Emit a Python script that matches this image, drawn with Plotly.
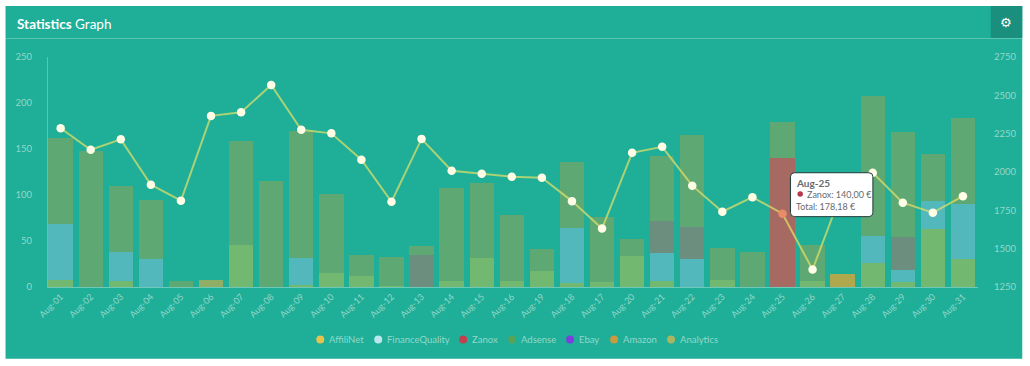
import plotly.graph_objects as go

W, H = 1030, 366
L, R, T, B = 47.5, 978.2, 57.0, 287.5

days = ["Aug-01","Aug-02","Aug-03","Aug-04","Aug-05","Aug-06","Aug-07","Aug-08","Aug-09","Aug-10",
        "Aug-11","Aug-12","Aug-13","Aug-14","Aug-15","Aug-16","Aug-19","Aug-18","Aug-17","Aug-20",
        "Aug-21","Aug-22","Aug-23","Aug-24","Aug-25","Aug-26","Aug-27","Aug-28","Aug-29","Aug-30","Aug-31"]
affilinet = [8,0,7,0,0,0,46,0,2,15,12,1,0,7,31,6,17,4,5,34,7,0,8,0,0,7,0,26,5,63,30]
financequality = [60,0,31,30,0,0,0,0,30,0,0,0,0,0,0,0,0,60,0,0,30,30,0,0,0,0,0,29,14,31,60]
zanox = [0,0,0,0,0,0,0,0,0,0,0,0,0,0,0,0,0,0,0,0,0,0,0,0,140,0,0,0,0,0,0]
ebay = [0,0,0,0,0,0,0,0,0,0,0,0,35,0,0,0,0,0,0,0,35,35,0,0,0,0,0,0,35,0,0]
adsense = [94,148,72,65,6,0,113,115,138,86,23,32,10,101,82,72,24,72,71,18,70,100,34,38,39,39,0,153,115,51,94]
amazon = [0,0,0,0,0,8,0,0,0,0,0,0,0,0,0,0,0,0,0,0,0,0,0,0,0,0,14,0,0,0,0]
analytics = [2285,2145,2213,1917,1813,2366,2389,2568,2275,2252,2080,1806,2216,2008,1989,1969,1963,1810,1631,2125,
             2164,1911,1741,1836,1728,1364,1885,1995,1800,1735,1842]

legend_names = ["AffiliNet","FinanceQuality","Zanox","Adsense","Ebay","Amazon","Analytics"]
legend_colors = ["#E6C34F","#BDE6EE","#C0404E","#55A45A","#7A3FDD","#C99A3E","#A9B560"]
legend_swatch_x = [320,378,463,512,570,614,671]
tick_left = [0,50,100,150,200,250]
tick_right = [1250,1500,1750,2000,2250,2500,2750]

PANEL = "#1FAE97"
TXT = "#93D8CA"
FONT = "Lato"


def px(x):
    return (x - L) / (R - L)


def py(y):
    return (B - y) / (B - T)


fig = go.Figure()
amazon_colors = ["#8FAE66" if d == "Aug-06" else "#B0A84C" for d in days]
for name, vals, col in [("AffiliNet", affilinet, "#72B871"),
                        ("FinanceQuality", financequality, "#52B8BC"),
                        ("Zanox", zanox, "#A66A62"),
                        ("Ebay", ebay, "#6B8E7E"),
                        ("Adsense", adsense, "#5DA873"),
                        ("Amazon", amazon, amazon_colors)]:
    fig.add_bar(x=days, y=vals, name=name, marker=dict(color=col, line_width=0), yaxis="y")

marker_colors = ["#E98C68" if d == "Aug-25" else "#FFFDE6" for d in days]
fig.add_scatter(x=days, y=analytics, name="Analytics", yaxis="y2", mode="lines+markers",
                line=dict(color="rgba(225,225,105,0.72)", width=2),
                marker=dict(size=8.5, color=marker_colors, line_width=0))

shapes = [
    dict(type="rect", xref="paper", yref="paper", layer="below", x0=px(5), x1=px(1022.5), y0=py(6), y1=py(359.5),
         fillcolor=PANEL, line_width=0),
    dict(type="line", xref="paper", yref="paper", layer="below", x0=px(5), x1=px(1022.5), y0=py(38.5), y1=py(38.5),
         line=dict(color="rgba(255,255,255,0.28)", width=1)),
    dict(type="rect", xref="paper", yref="paper", layer="below", x0=px(991), x1=px(1022.5), y0=py(6), y1=py(38),
         fillcolor="#1B8F7D", line_width=0),
]
annotations = [
    dict(xref="paper", yref="paper", x=px(14.5), y=py(23.5), xanchor="left", yanchor="middle", showarrow=False,
         text="<b>Statistics</b> Graph", font=dict(family=FONT, size=13.5, color="#FFFFFF")),
    dict(xref="paper", yref="paper", x=px(1006), y=py(22), xanchor="center", yanchor="middle", showarrow=False,
         text="⚙", font=dict(family="DejaVu Sans", size=13, color="#FFFFFF")),
]
for nm, col, sx in zip(legend_names, legend_colors, legend_swatch_x):
    shapes.append(dict(type="circle", xref="paper", yref="paper", x0=px(sx - 4), x1=px(sx + 4),
                       y0=py(340 - 4), y1=py(340 + 4), fillcolor=col, line_width=0))
    annotations.append(dict(xref="paper", yref="paper", x=px(sx + 7), y=py(340), xanchor="left", yanchor="middle",
                            showarrow=False, text=nm, font=dict(family=FONT, size=9.5, color=TXT)))

# tooltip
x0, x1, y0, y1, r = 790.5, 873, 173, 217, 4
path = (f"M {px(x0 + r)} {py(y0)} L {px(x1 - r)} {py(y0)} Q {px(x1)} {py(y0)} {px(x1)} {py(y0 + r)} "
        f"L {px(x1)} {py(y1 - r)} Q {px(x1)} {py(y1)} {px(x1 - r)} {py(y1)} "
        f"L {px(x0 + r)} {py(y1)} Q {px(x0)} {py(y1)} {px(x0)} {py(y1 - r)} "
        f"L {px(x0)} {py(y0 + r)} Q {px(x0)} {py(y0)} {px(x0 + r)} {py(y0)} Z")
shapes.append(dict(type="path", xref="paper", yref="paper", path=path, fillcolor="#FFFFFF",
                   line=dict(color="#1D3B3A", width=1)))
shapes.append(dict(type="circle", xref="paper", yref="paper", x0=px(797.5), x1=px(803), y0=py(191.5), y1=py(197),
                   fillcolor="#B8384A", line_width=0))
for text, tx, ty, sz in [("<b>Aug-25</b>", 794.5, 183, 10), ("Zanox: 140,00 €", 805.5, 194.5, 9),
                         ("Total: 178,18 €", 794.5, 207, 9)]:
    annotations.append(dict(xref="paper", yref="paper", x=px(tx), y=py(ty), xanchor="left", yanchor="middle",
                            showarrow=False, text=text, font=dict(family=FONT, size=sz, color="#666B6F")))

fig.update_layout(
    width=W, height=H, barmode="stack", bargap=0.19, showlegend=False,
    paper_bgcolor="#FFFFFF", plot_bgcolor="rgba(0,0,0,0)",
    margin=dict(l=L, r=W - R, t=T, b=H - B, autoexpand=False, pad=0),
    font=dict(family=FONT, size=9.5, color=TXT),
    xaxis=dict(type="category", categoryorder="array", categoryarray=days, range=[-0.42, 30.5],
               tickangle=-45, ticks="", showgrid=False, showline=True, linecolor="rgba(255,255,255,0.35)",
               linewidth=1, zeroline=False, tickfont=dict(size=9, color=TXT)),
    yaxis=dict(range=[0, 250], tickmode="array", tickvals=tick_left, showgrid=False, zeroline=False,
               showline=True, linecolor="rgba(255,255,255,0.28)", linewidth=1,
               ticks="outside", ticklen=13, tickcolor="rgba(0,0,0,0)", tickfont=dict(size=9.5, color=TXT)),
    yaxis2=dict(range=[1250, 2750], tickmode="array", tickvals=tick_right, overlaying="y", side="right",
                showgrid=False, zeroline=False, showline=False, ticks="outside", ticklen=13,
                tickcolor="rgba(0,0,0,0)", tickfont=dict(size=9.5, color=TXT)),
    shapes=shapes, annotations=annotations,
)

fig.write_html("out.html", post_script="document.body.style.margin='0';", config={"displayModeBar": False})
